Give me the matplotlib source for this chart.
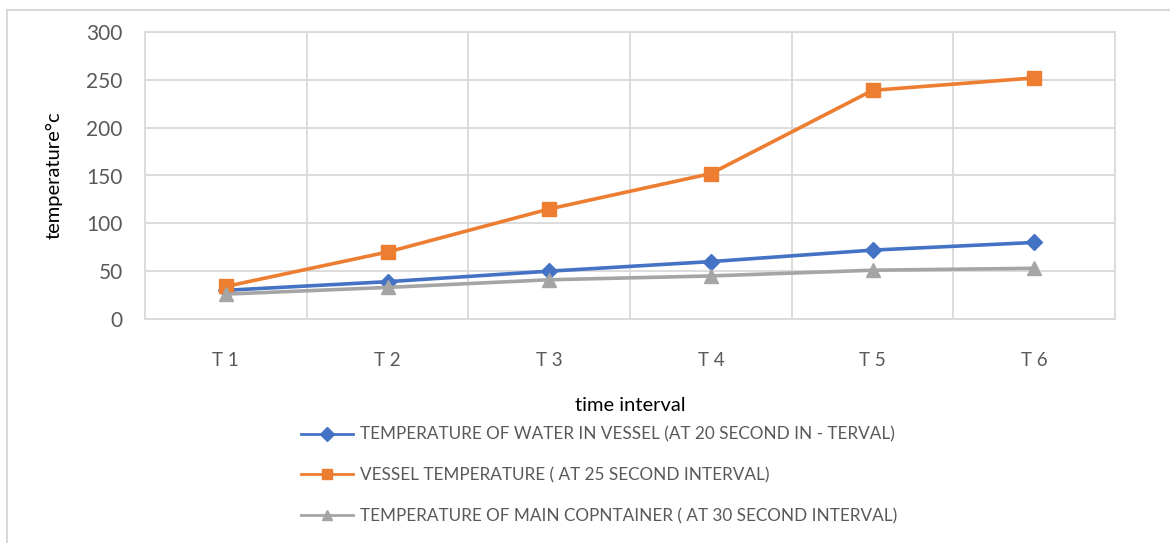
import matplotlib
matplotlib.use("Agg")
import matplotlib.pyplot as plt
from matplotlib import font_manager

# Data
categories = ["T 1", "T 2", "T 3", "T 4", "T 5", "T 6"]
water_in_vessel = [30, 39, 50, 60, 72, 80]
vessel_temp = [34, 70, 115, 152, 239, 252]
main_container = [26, 33, 41, 45, 51, 53]

series_labels = [
    "TEMPERATURE OF WATER IN VESSEL (AT 20 SECOND IN - TERVAL)",
    "VESSEL TEMPERATURE ( AT 25 SECOND INTERVAL)",
    "TEMPERATURE OF MAIN COPNTAINER ( AT 30 SECOND INTERVAL)",
]
colors = ["#4472C4", "#ED7D31", "#A5A5A5"]
markers = ["D", "s", "^"]
msizes = [8, 10, 10]

available = {f.name for f in font_manager.fontManager.ttflist}
base = "Lato" if "Lato" in available else "DejaVu Sans"
plt.rcParams["font.family"] = [base, "DejaVu Sans"]

W, H = 1170, 543
fig = plt.figure(figsize=(W / 100, H / 100), dpi=100)

# plot area in pixel coordinates
left, right, top, bottom = 145, 1115, 32, 319
ax = fig.add_axes([left / W, 1 - bottom / H, (right - left) / W, (bottom - top) / H])

x = list(range(len(categories)))
for vals, c, m, ms, lab in zip([water_in_vessel, vessel_temp, main_container],
                               colors, markers, msizes, series_labels):
    ax.plot(x, vals, color=c, lw=2.6, marker=m, markersize=ms,
            markeredgecolor=c, label=lab, zorder=3)

ax.set_xlim(-0.5, len(categories) - 0.5)
ax.set_ylim(0, 300)
ax.set_yticks(range(0, 301, 50))
ax.set_xticks(x)
ax.set_xticklabels(categories)

grid_c = "#D9D9D9"
ax.set_xticks([i + 0.5 for i in range(len(categories) - 1)], minor=True)
ax.grid(True, which="major", axis="y", color=grid_c, lw=1.3)
ax.grid(True, which="minor", axis="x", color=grid_c, lw=1.3)
for s in ax.spines.values():
    s.set_color(grid_c)
    s.set_linewidth(1.3)
ax.tick_params(which="both", length=0)
ax.tick_params(axis="y", labelsize=15, colors="#595959", pad=16)
ax.tick_params(axis="x", labelsize=13.5, colors="#595959", pad=24)

ax.set_ylabel("temperature°c", fontsize=14.5, color="#000000", labelpad=17)
ax.set_xlabel("time interval", fontsize=14.5, color="#000000", labelpad=20)

# outer chart frame (top and left edges)
fig.add_artist(plt.Line2D([7 / W, 1], [1 - 10 / H, 1 - 10 / H], color=grid_c, lw=1.5,
                          transform=fig.transFigure))
fig.add_artist(plt.Line2D([7 / W, 7 / W], [0, 1 - 10 / H], color=grid_c, lw=1.5,
                          transform=fig.transFigure))

leg = fig.legend(loc="upper left", bbox_to_anchor=(286 / W, 1 - 411 / H),
                 frameon=False, handlelength=3.0, handletextpad=0.45,
                 labelspacing=1.45, prop={"family": base, "size": 12.3})
for t in leg.get_texts():
    t.set_color("#595959")
for h in leg.legend_handles:
    h.set_linewidth(2)
    h.set_markersize(7)

fig.savefig("out.png", dpi=100)
